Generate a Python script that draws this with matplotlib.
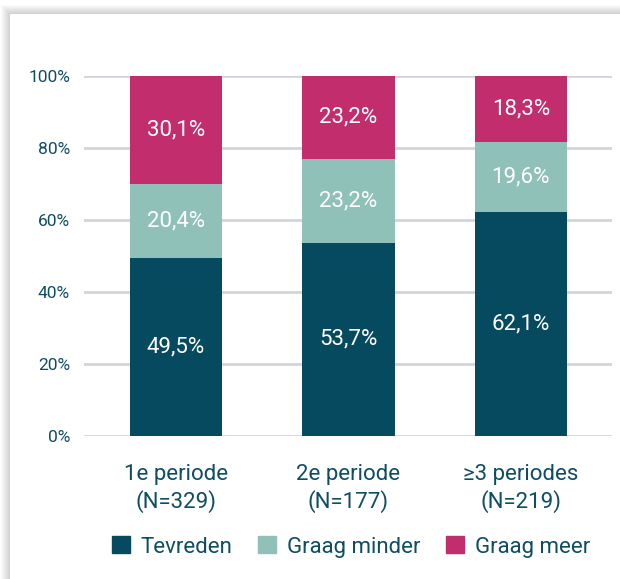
"""
Tevredenheid per periode - gestapelde staafgrafiek.
"""

import matplotlib

matplotlib.use("Agg")
import matplotlib.pyplot as plt
from matplotlib.patches import Rectangle

categories = ["1e periode\n(N=329)", "2e periode\n(N=177)", "\u22653 periodes\n(N=219)"]
series_names = ["Tevreden", "Graag minder", "Graag meer"]
tevreden = [49.5, 53.7, 62.1]
graag_minder = [20.4, 23.2, 19.6]
graag_meer = [30.1, 23.2, 18.3]
yticks = [0, 20, 40, 60, 80, 100]

colors = ["#054a5e", "#8fc1b9", "#c22d6e"]
text_color = "#0f4d63"

plt.rcParams["font.family"] = ["Roboto", "DejaVu Sans"]

fig = plt.figure(figsize=(6.2, 5.79), dpi=100)
fig.patch.set_facecolor("white")

# card with soft shadow on the top and left edges
W, H = 620, 579
for i in range(10):
    fig.patches.append(Rectangle(((10 - i) / W, 0), 1, (H - 14 + i) / H,
                                 transform=fig.transFigure, facecolor="#000000",
                                 alpha=0.018, edgecolor="none", zorder=0))
fig.patches.append(Rectangle((10 / W, 0), 1, (H - 14) / H, transform=fig.transFigure,
                             facecolor="white", edgecolor="none", zorder=1))

ax = fig.add_axes([84 / W, 1 - 436 / H, (612 - 84) / W, (436 - 76) / H])
ax.set_facecolor("none")
ax.set_zorder(2)

x = list(range(len(categories)))
width = 0.535
bottom = [0.0] * len(x)
for vals, color in zip([tevreden, graag_minder, graag_meer], colors):
    ax.bar(x, vals, width, bottom=bottom, color=color, zorder=3)
    for xi, b, v in zip(x, bottom, vals):
        ax.text(xi, b + v / 2, f"{v:.1f}%".replace(".", ","), ha="center", va="center",
                color="white", fontsize=16, zorder=4)
    bottom = [b + v for b, v in zip(bottom, vals)]

ax.set_xlim(-0.533, 2.528)
ax.set_ylim(0, 100)
ax.set_yticks(yticks)
ax.set_yticklabels([f"{t}%" for t in yticks], color=text_color, fontsize=12.5)
for t in yticks:
    ax.axhline(t, color="#d0d5dd", linewidth=2, zorder=1)
ax.set_xticks(x)
ax.set_xticklabels(categories, color=text_color, fontsize=16, linespacing=1.3)
ax.tick_params(axis="both", length=0)
ax.tick_params(axis="y", pad=10)
ax.tick_params(axis="x", pad=20)
for s in ax.spines.values():
    s.set_visible(False)

handles = [Rectangle((0, 0), 1, 1, color=c) for c in colors]
leg = fig.legend(handles, series_names, loc="center", bbox_to_anchor=(351 / W, 1 - 547 / H),
                 ncol=3, frameon=False, fontsize=16, handlelength=0.8, handleheight=0.8,
                 handletextpad=0.5, columnspacing=1.15)
for t in leg.get_texts():
    t.set_color(text_color)

plt.savefig("out.png", dpi=100)
